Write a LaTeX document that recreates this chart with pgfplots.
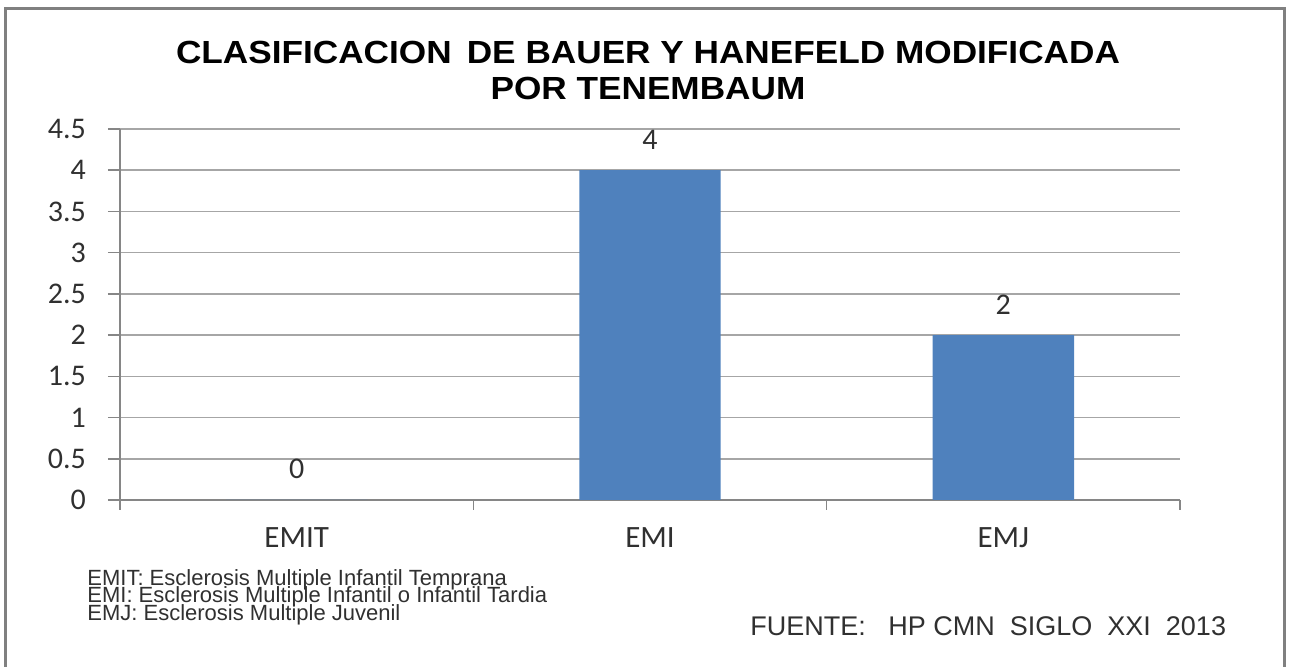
\documentclass[border=0pt]{standalone}
\usepackage{pgfplots}
\pgfplotsset{compat=1.18}
\usepackage{fontspec}
\setmainfont{Liberation Sans}
\newfontfamily\calibri{Carlito}
\newfontfamily\titlefont[FakeStretch=1.1]{Liberation Sans}

\definecolor{barblue}{HTML}{4F81BD}
\definecolor{gridgray}{HTML}{A6A6A6}
\definecolor{axisgray}{HTML}{868686}
\definecolor{txt}{HTML}{303030}

\newcommand{\tightlines}{\fontsize{11}{8.8}\selectfont\lineskiplimit=-20pt\relax\lineskip=0pt\relax}

\begin{document}
\begin{tikzpicture}[x=1pt,y=1pt]
% page: 1289x667 px at 0.5pt per px, axis origin at px (120,500)
\path[use as bounding box] (-60,-83.5) rectangle (584.5,250);
\draw[gray, line width=1.5pt] (-57,-84) -- (-57,245.5) -- (582,245.5) -- (582,-84);

\node[font=\titlefont\bfseries\fontsize{16}{16}\selectfont] at (264,224) {CLASIFICACION\, DE BAUER Y HANEFELD MODIFICADA};
\node[font=\titlefont\bfseries\fontsize{16}{16}\selectfont] at (264,206) {POR TENEMBAUM};

\begin{axis}[
  at={(0,0)}, anchor=south west,
  scale only axis, width=530pt, height=185.5pt,
  xmin=-0.5, xmax=2.5, ymin=0, ymax=4.5,
  axis x line=bottom, axis y line=left,
  axis line style={-, draw=axisgray, line width=0.8pt},
  tick align=outside,
  major tick length=6pt, minor tick length=5pt,
  tick style={draw=axisgray, line width=0.8pt},
  ytick={0,0.5,1,1.5,2,2.5,3,3.5,4,4.5},
  yticklabels={0,0.5,1,1.5,2,2.5,3,3.5,4,4.5},
  ymajorgrids, grid style={gridgray, line width=0.8pt},
  xtick={0,1,2}, xticklabels={EMIT,EMI,EMJ},
  major x tick style={draw=none},
  minor xtick={-0.5,0.5,1.5,2.5},
  yticklabel style={font=\calibri\fontsize{15}{15}\selectfont, text=txt, xshift=-7.5pt},
  xticklabel style={font=\calibri\fontsize{15.5}{15.5}\selectfont, text=txt, yshift=-4.5pt},
  /pgf/number format/assume math mode=true,
  clip=false,
]
\addplot[ybar, fill=barblue, draw=none, bar width=0.4,
  nodes near coords,
  nodes near coords style={font=\calibri\fontsize{15}{15}\selectfont, text=txt, yshift=7pt}]
  coordinates {(0,0) (1,4) (2,2)};
\end{axis}

% footnote: one block of three tight lines (base = last line)
\node[anchor=base west, inner sep=0pt, text=txt, align=left, font=\tightlines] at (-16.5,-60.3)
  {EMIT: Esclerosis Multiple Infantil Temprana\\
   EMI: Esclerosis Multiple Infantil o Infantil Tardia\\
   EMJ: Esclerosis Multiple Juvenil};
\node[anchor=base west, inner sep=0pt, text=txt, font=\fontsize{13.5}{13.5}\selectfont] at (315,-68)
  {FUENTE:~~ HP~CMN~~SIGLO~~XXI~~2013};
\end{tikzpicture}
\end{document}
